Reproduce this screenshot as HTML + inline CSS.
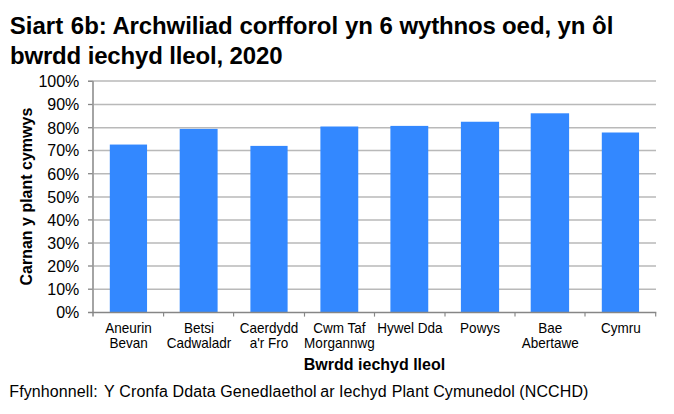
<!DOCTYPE html>
<html>
<head>
<meta charset="utf-8">
<style>
html,body{margin:0;padding:0;background:#fff;}
body{width:674px;height:414px;overflow:hidden;position:relative;font-family:"Liberation Sans",sans-serif;}
svg{position:absolute;left:0;top:0;}
</style>
</head>
<body>
<svg width="674" height="414" viewBox="0 0 674 414" font-family="'Liberation Sans', sans-serif">
  <!-- title -->
  <text y="33.5" font-size="24" font-weight="bold" fill="#000"><tspan x="9.8">Siart</tspan><tspan x="70.8">6b:</tspan><tspan x="112.4" letter-spacing="-0.12">Archwiliad</tspan><tspan x="239.5">corfforol</tspan><tspan x="344.9">yn</tspan><tspan x="379.5">6</tspan><tspan x="399.6" letter-spacing="-0.2">wythnos</tspan><tspan x="501.9">oed,</tspan><tspan x="557.5">yn</tspan><tspan x="592.0">ôl</tspan></text>
  <text x="9.9" y="64.0" font-size="24" letter-spacing="-0.15" font-weight="bold" fill="#000">bwrdd iechyd lleol, 2020</text>

  <!-- gridlines -->
  <g stroke="#b9b9b9" stroke-width="1.5">
    <line x1="93.8" y1="81.0" x2="656" y2="81.0"/>
    <line x1="93.8" y1="104.5" x2="656" y2="104.5"/>
    <line x1="93.8" y1="127.7" x2="656" y2="127.7"/>
    <line x1="93.8" y1="150.5" x2="656" y2="150.5"/>
    <line x1="93.8" y1="173.7" x2="656" y2="173.7"/>
    <line x1="93.8" y1="196.9" x2="656" y2="196.9"/>
    <line x1="93.8" y1="219.9" x2="656" y2="219.9"/>
    <line x1="93.8" y1="243.1" x2="656" y2="243.1"/>
    <line x1="93.8" y1="266.0" x2="656" y2="266.0"/>
    <line x1="93.8" y1="289.2" x2="656" y2="289.2"/>
  </g>

  <!-- bars -->
  <g fill="#3388ff">
    <rect x="109.8" y="144.55" width="37.25" height="167.95"/>
    <rect x="179.7" y="128.9" width="37.90" height="183.60"/>
    <rect x="250.4" y="145.9" width="37.20" height="166.60"/>
    <rect x="320.4" y="126.5" width="37.85" height="186.00"/>
    <rect x="390.4" y="125.9" width="37.85" height="186.60"/>
    <rect x="460.9" y="121.75" width="38.20" height="190.75"/>
    <rect x="530.7" y="113.3" width="38.40" height="199.20"/>
    <rect x="601.8" y="132.5" width="37.25" height="180.00"/>
  </g>

  <!-- axes -->
  <g stroke="#868686" fill="none">
    <line x1="93" y1="80.5" x2="93" y2="316.5" stroke-width="1.5"/>
    <line x1="88" y1="312.5" x2="656.3" y2="312.5" stroke-width="1.6"/>
    <line x1="88" y1="81.2" x2="92.5" y2="81.2" stroke-width="1.5"/>
    <line x1="88" y1="104.5" x2="92.5" y2="104.5" stroke-width="1.3"/>
    <line x1="88" y1="127.7" x2="92.5" y2="127.7" stroke-width="1.3"/>
    <line x1="88" y1="150.5" x2="92.5" y2="150.5" stroke-width="1.3"/>
    <line x1="88" y1="173.7" x2="92.5" y2="173.7" stroke-width="1.3"/>
    <line x1="88" y1="196.9" x2="92.5" y2="196.9" stroke-width="1.3"/>
    <line x1="88" y1="219.9" x2="92.5" y2="219.9" stroke-width="1.3"/>
    <line x1="88" y1="243.1" x2="92.5" y2="243.1" stroke-width="1.3"/>
    <line x1="88" y1="266.0" x2="92.5" y2="266.0" stroke-width="1.3"/>
    <line x1="88" y1="289.2" x2="92.5" y2="289.2" stroke-width="1.3"/>
    <line x1="163.6" y1="312.5" x2="163.6" y2="316.6" stroke-width="1.15"/>
    <line x1="233.6" y1="312.5" x2="233.6" y2="316.6" stroke-width="1.15"/>
    <line x1="304.5" y1="312.5" x2="304.5" y2="316.6" stroke-width="1.15"/>
    <line x1="374.5" y1="312.5" x2="374.5" y2="316.6" stroke-width="1.15"/>
    <line x1="445.0" y1="312.5" x2="445.0" y2="316.6" stroke-width="1.15"/>
    <line x1="515.0" y1="312.5" x2="515.0" y2="316.6" stroke-width="1.15"/>
    <line x1="585.0" y1="312.5" x2="585.0" y2="316.6" stroke-width="1.15"/>
    <line x1="655.7" y1="312.5" x2="655.7" y2="316.6" stroke-width="1.15"/>
  </g>

  <!-- y labels -->
  <g font-size="16" fill="#000" text-anchor="end">
    <text x="79.3" y="86.85">100%</text>
    <text x="79.3" y="110.35">90%</text>
    <text x="79.3" y="133.55">80%</text>
    <text x="79.3" y="156.35">70%</text>
    <text x="79.3" y="179.55">60%</text>
    <text x="79.3" y="202.75">50%</text>
    <text x="79.3" y="225.75">40%</text>
    <text x="79.3" y="248.95">30%</text>
    <text x="79.3" y="271.85">20%</text>
    <text x="79.3" y="295.05">10%</text>
    <text x="79.3" y="318.35">0%</text>
  </g>

  <!-- x labels -->
  <g font-size="14" fill="#000" text-anchor="middle">
    <g transform="translate(128.6,0) scale(0.965,1)"><text x="0" y="332.8">Aneurin</text><text x="0" y="348">Bevan</text></g>
    <g transform="translate(198.9,0) scale(0.965,1)"><text x="0" y="332.8">Betsi</text><text x="0" y="348">Cadwaladr</text></g>
    <g transform="translate(269.0,0) scale(0.965,1)"><text x="0" y="332.8">Caerdydd</text><text x="0" y="348">a'r Fro</text></g>
    <g transform="translate(339.4,0) scale(0.965,1)"><text x="0" y="332.8">Cwm Taf</text><text x="0" y="348">Morgannwg</text></g>
    <g transform="translate(409.8,0) scale(0.965,1)"><text x="0" y="332.8">Hywel Dda</text></g>
    <g transform="translate(480.0,0) scale(0.965,1)"><text x="0" y="332.8">Powys</text></g>
    <g transform="translate(550.3,0) scale(0.965,1)"><text x="0" y="332.8">Bae</text><text x="0" y="348">Abertawe</text></g>
    <g transform="translate(620.8,0) scale(0.965,1)"><text x="0" y="332.8">Cymru</text></g>
  </g>

  <!-- axis titles -->
  <text x="374.5" y="369.7" font-size="16" font-weight="bold" fill="#000" text-anchor="middle">Bwrdd iechyd lleol</text>
  <text transform="translate(32,196.6) rotate(-90)" x="0" y="0" font-size="16" font-weight="bold" fill="#000" text-anchor="middle">Carnan y plant cymwys</text>

  <!-- footer -->
  <g><text y="397.2" font-size="16" letter-spacing="0.105" fill="#000"><tspan x="9.30">Ffynhonnell:</tspan><tspan x="103.97">Y</tspan><tspan x="119.32">Cronfa</tspan><tspan x="172.62">Ddata</tspan><tspan x="220.19">Genedlaethol</tspan><tspan x="320.3">ar</tspan><tspan x="338.97">Iechyd</tspan><tspan x="391.70">Plant</tspan><tspan x="433.15">Cymunedol</tspan><tspan x="519.35">(NCCHD)</tspan></text></g>
</svg>
</body>
</html>
